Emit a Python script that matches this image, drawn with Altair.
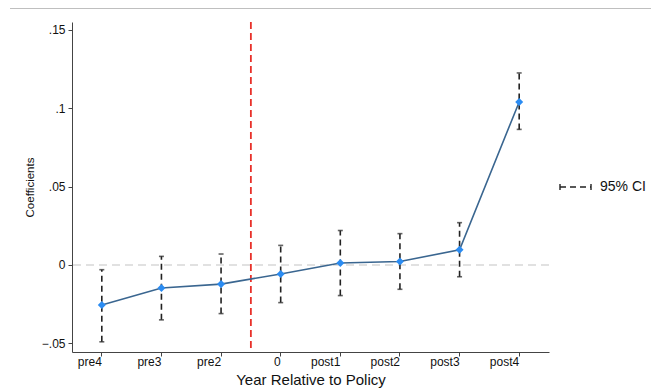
import altair as alt
import pandas as pd

periods = ["pre4", "pre3", "pre2", "0", "post1", "post2", "post3", "post4"]
coef = [-0.0255, -0.0147, -0.0122, -0.0057, 0.0013, 0.0022, 0.0097, 0.104]
ci_low = [-0.049, -0.035, -0.031, -0.024, -0.0195, -0.0155, -0.0075, 0.0865]
ci_high = [-0.0030, 0.0055, 0.0070, 0.0125, 0.0220, 0.0200, 0.0270, 0.1225]
policy_period = ["0"]
zero_ref = [0]
y_ticks = [-0.05, 0, 0.05, 0.1, 0.15]
legend_label = ["95% CI"]

df = pd.DataFrame({"period": periods, "coef": coef, "lo": ci_low, "hi": ci_high})
one = pd.DataFrame({"k": [0]})

xscale = alt.Scale(type="band", domain=periods, paddingInner=0, paddingOuter=0)
yscale = alt.Scale(domain=[-0.0555, 0.155], nice=False, zero=False)

X = alt.X("period:N", scale=xscale, sort=periods,
          axis=alt.Axis(title="Year Relative to Policy", labelAngle=0, labelPadding=5,
                        titleFontSize=15, titlePadding=5, titleFontWeight="normal",
                        labelFontSize=12, tickSize=4, domainColor="#444", tickColor="#444",
                        labelColor="#111", titleColor="#111"))
Y = alt.Y("coef:Q", scale=yscale,
          axis=alt.Axis(title="Coefficients", values=y_ticks, grid=False,
                        labelExpr="replace(format(datum.value,'.2~f'),'0.','.')",
                        labelFontSize=12, titleFontSize=11.5, titleFontWeight="normal",
                        titlePadding=6, tickSize=4, labelPadding=3,
                        domainColor="#444", tickColor="#444", labelColor="#111",
                        titleColor="#111"))

base = alt.Chart(df)

top_line = alt.Chart(one).mark_rule(color="#aaaaaa", strokeWidth=1.5).encode(
    x=alt.value(-62), x2=alt.value(590), y=alt.value(-14))

zero_line = alt.Chart(pd.DataFrame({"z": zero_ref})).mark_rule(
    color="#d8d8d8", strokeDash=[8, 5], strokeWidth=1.5).encode(
    y=alt.Y("z:Q", scale=yscale))

policy = alt.Chart(pd.DataFrame({"period": policy_period})).mark_rule(
    color="#e8312a", strokeDash=[7, 4], strokeWidth=1.8).encode(
    x=alt.X("period:N", scale=xscale, bandPosition=0))

whisk = base.mark_rule(color="#222222", strokeDash=[6, 4], strokeWidth=1.6).encode(
    x=X, y=alt.Y("lo:Q", scale=yscale), y2="hi:Q")
cap_lo = base.mark_tick(color="#222222", size=5, thickness=1.6).encode(
    x=X, y=alt.Y("lo:Q", scale=yscale))
cap_hi = base.mark_tick(color="#222222", size=5, thickness=1.6).encode(
    x=X, y=alt.Y("hi:Q", scale=yscale))

line = base.mark_line(color="#3a6690", strokeWidth=1.6).encode(x=X, y=Y)
pts = base.mark_point(shape="diamond", filled=True, size=65, color="#2b8cf2", opacity=1).encode(x=X, y=Y)

leg_line = alt.Chart(one).mark_rule(color="#222222", strokeDash=[6, 4], strokeWidth=1.4).encode(
    x=alt.value(488), x2=alt.value(519), y=alt.value(165))
leg_cap1 = alt.Chart(one).mark_rule(color="#222222", strokeWidth=1.4).encode(
    x=alt.value(488), y=alt.value(162), y2=alt.value(168))
leg_cap2 = alt.Chart(one).mark_rule(color="#222222", strokeWidth=1.4).encode(
    x=alt.value(519), y=alt.value(162), y2=alt.value(168))
leg_text = alt.Chart(pd.DataFrame({"t": legend_label})).mark_text(
    align="left", baseline="middle", fontSize=14, color="#111111",
    font="Liberation Sans").encode(
    x=alt.value(528), y=alt.value(165), text="t:N")

chart = alt.layer(
    top_line, zero_line, policy, whisk, cap_lo, cap_hi, line, pts,
    leg_line, leg_cap1, leg_cap2, leg_text
).properties(
    width=477, height=330,
    autosize=alt.AutoSizeParams(type="none"),
    padding={"left": 64, "top": 14, "right": 102, "bottom": 45},
).configure_view(stroke=None).configure_axis(
    labelFont="Liberation Sans", titleFont="Liberation Sans"
)

chart.save("out.html", embed_options={"renderer": "svg", "actions": False})
